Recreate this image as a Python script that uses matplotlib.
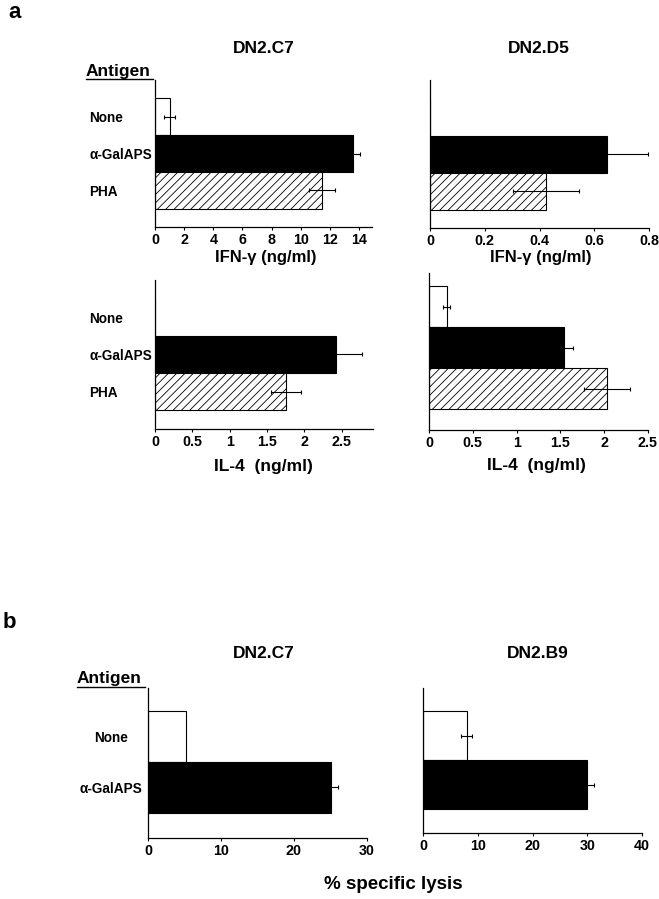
import matplotlib
matplotlib.use("Agg")
import matplotlib.pyplot as plt
from matplotlib.lines import Line2D

# categories
antigens_a = ['None', 'α-GalAPS', 'PHA']
antigens_b = ['None', 'α-GalAPS']

# panel a: cytokine release (ng/ml)
ifn_c7 = [1.0, 13.6, 11.45]
ifn_c7_err = [0.37, 0.5, 0.9]
ifn_d5 = [0.0, 0.648, 0.424]
ifn_d5_err = [0.0, 0.15, 0.12]
il4_c7 = [0.0, 2.43, 1.76]
il4_c7_err = [0.0, 0.34, 0.2]
il4_d5 = [0.2, 1.54, 2.03]
il4_d5_err = [0.045, 0.1, 0.26]

# panel b: % specific lysis
lysis_c7 = [5.2, 25.0]
lysis_c7_err = [0.0, 1.0]
lysis_b9 = [8.0, 30.0]
lysis_b9_err = [1.0, 1.3]

# tick positions
ticks_ifn_c7 = [0, 2, 4, 6, 8, 10, 12, 14]
ticks_ifn_d5 = [0, 0.2, 0.4, 0.6, 0.8]
ticks_il4 = [0, 0.5, 1, 1.5, 2, 2.5]
ticks_lysis_c7 = [0, 10, 20, 30]
ticks_lysis_b9 = [0, 10, 20, 30, 40]

plt.rcParams['font.family'] = ['Liberation Sans', 'DejaVu Sans']
plt.rcParams['font.weight'] = 'bold'
plt.rcParams['hatch.linewidth'] = 0.6

W, H = 659, 899
fig = plt.figure(figsize=(W / 100, H / 100), dpi=100)

fills = ['white', 'black', 'white']
hatches = [None, None, '////']


def px_axes(left, top, right, bottom):
    # axes box given in pixel coords of the figure (y from top)
    return fig.add_axes([left / W, 1 - bottom / H, (right - left) / W, (bottom - top) / H])


def draw_panel(rect, vals, errs, xmax, ticks, ylim, labels=None, label_pad=0, label_ha='left'):
    ax = px_axes(*rect)
    n = len(vals)
    ys = list(range(n))
    for i in range(n):
        ax.barh(ys[i], vals[i], height=1.0, color=fills[i], edgecolor='black',
                linewidth=0.8, hatch=hatches[i], zorder=2)
        if errs[i] > 0:
            ax.errorbar(vals[i], ys[i], xerr=errs[i], fmt='none', ecolor='black',
                        elinewidth=0.8, capsize=1.5, capthick=0.8, zorder=3)
    ax.set_xlim(0, xmax)
    ax.set_ylim(*ylim)
    ax.set_xticks(ticks)
    ax.set_xticklabels([('%g' % t) for t in ticks], fontsize=10.3, fontweight='bold')
    ax.tick_params(axis='x', direction='out', length=2.5, width=0.8, pad=1.5)
    for s in ['top', 'right']:
        ax.spines[s].set_visible(False)
    ax.spines['left'].set_linewidth(0.9)
    ax.spines['bottom'].set_linewidth(0.9)
    if labels is not None:
        ax.set_yticks(ys)
        ax.set_yticklabels(labels, fontsize=9.8, fontweight='bold')
        ax.tick_params(axis='y', length=0, pad=label_pad)
        for t in ax.get_yticklabels():
            t.set_ha(label_ha)
    else:
        ax.set_yticks([])
    return ax


# panel a
draw_panel((155, 80, 372, 227), ifn_c7, ifn_c7_err, 14.9, ticks_ifn_c7, (3.0, -1.0),
           antigens_a, label_pad=47.5)
draw_panel((430, 80, 649, 228), ifn_d5, ifn_d5_err, 0.8, ticks_ifn_d5, (3.0, -1.0))
draw_panel((155, 280, 373, 429), il4_c7, il4_c7_err, 2.92, ticks_il4, (3.0, -1.0),
           antigens_a, label_pad=47.5)
draw_panel((429, 273, 648, 430), il4_d5, il4_d5_err, 2.5, ticks_il4, (3.01, -0.82))

# panel b
draw_panel((148, 688, 367, 838), lysis_c7, lysis_c7_err, 30, ticks_lysis_c7, (1.99, -0.95),
           antigens_b, label_pad=26.6, label_ha='center')
draw_panel((423, 688, 642, 833), lysis_b9, lysis_b9_err, 40, ticks_lysis_b9, (1.99, -0.97))


def ftext(x, y, s, size, ha='center'):
    fig.text(x / W, 1 - y / H, s, fontsize=size, fontweight='bold', ha=ha, va='baseline')


ftext(8, 18, 'a', 16, ha='left')
ftext(3, 628, 'b', 16, ha='left')

ftext(264, 53, 'DN2.C7', 12.5)
ftext(539, 53, 'DN2.D5', 12.5)
ftext(264, 658, 'DN2.C7', 12.5)
ftext(538, 658, 'DN2.B9', 12.5)

ftext(266, 262, 'IFN-γ (ng/ml)', 12)
ftext(541, 262, 'IFN-γ (ng/ml)', 12)
ftext(263, 471, 'IL-4  (ng/ml)', 12.5)
ftext(536, 470, 'IL-4  (ng/ml)', 12.5)
ftext(393, 889, '% specific lysis', 13.5)

# underlined "Antigen" headers
ftext(86, 76, 'Antigen', 12.5, ha='left')
fig.add_artist(Line2D([86 / W, 153 / W], [1 - 79 / H] * 2, color='black', lw=1.0))
ftext(77, 683, 'Antigen', 12.5, ha='left')
fig.add_artist(Line2D([77 / W, 145 / W], [1 - 687 / H] * 2, color='black', lw=1.0))

fig.savefig('out.png', dpi=100)
